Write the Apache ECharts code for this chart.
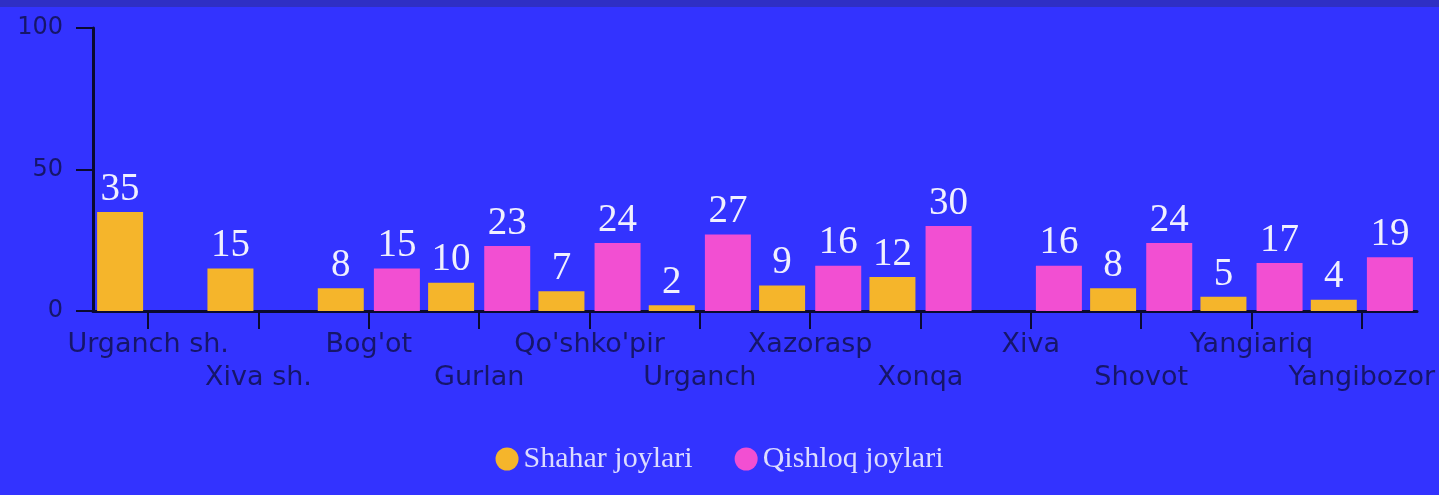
<!DOCTYPE html>
<html>
<head>
<meta charset="utf-8">
<script src="https://cdn.jsdelivr.net/npm/echarts@6/dist/echarts.min.js"></script>
<style>
  html, body { margin: 0; padding: 0; background: #3333ff; }
  #chart { width: 1439px; height: 495px; box-sizing: border-box; border-top: 7px solid #2f2fc4; }
</style>
</head>
<body>
<div id="chart"></div>
<script>
const categories = ["Urganch sh.", "Xiva sh.", "Bog'ot", "Gurlan", "Qo'shko'pir", "Urganch", "Xazorasp", "Xonqa", "Xiva", "Shovot", "Yangiariq", "Yangibozor"];
const shahar = [35, 15, 8, 10, 7, 2, 9, 12, null, 8, 5, 4];
const qishloq = [null, null, 15, 23, 24, 27, 16, 30, 16, 24, 17, 19];
const yTicks = [0, 50, 100];

const chart = echarts.init(document.getElementById("chart"));

const valueLabel = {
  show: true,
  position: "top",
  distance: 3,
  color: "#f0f0ff",
  fontFamily: "Liberation Serif",
  fontSize: 39
};

chart.setOption({
  backgroundColor: "#3333ff",
  animation: false,
  grid: { left: 93, right: 22, top: 21, bottom: 184 },
  legend: {
    bottom: 16,
    left: "center",
    icon: "circle",
    itemWidth: 23,
    itemHeight: 23,
    itemGap: 42,
    textStyle: { color: "#dcdcff", fontFamily: "Liberation Serif", fontSize: 30 },
    data: ["Shahar joylari", "Qishloq joylari"]
  },
  xAxis: {
    type: "category",
    data: categories,
    axisLine: { lineStyle: { color: "#0a0a30", width: 3 } },
    axisTick: { show: true, alignWithLabel: true, length: 18, lineStyle: { color: "#0a0a30", width: 2 } },
    axisLabel: {
      interval: 0,
      margin: 17,
      color: "#16166a",
      fontFamily: "DejaVu Sans",
      fontSize: 27,
      lineHeight: 33,
      formatter: (v, i) => (i % 2 ? "\n" + v : v)
    }
  },
  yAxis: {
    type: "value",
    min: yTicks[0],
    max: yTicks[yTicks.length - 1],
    interval: 50,
    splitLine: { show: false },
    axisLine: { show: true, lineStyle: { color: "#0a0a30", width: 3 } },
    axisTick: { show: true, length: 17, lineStyle: { color: "#0a0a30", width: 2 } },
    axisLabel: { color: "#16166a", fontFamily: "DejaVu Sans", fontSize: 24, margin: 30 }
  },
  series: [
    {
      name: "Shahar joylari",
      type: "bar",
      data: shahar,
      barWidth: 46,
      barGap: "22%",
      itemStyle: { color: "#f5b52b" },
      label: valueLabel
    },
    {
      name: "Qishloq joylari",
      type: "bar",
      data: qishloq,
      barWidth: 46,
      itemStyle: { color: "#f24fd2" },
      label: valueLabel
    }
  ]
});
</script>
</body>
</html>
